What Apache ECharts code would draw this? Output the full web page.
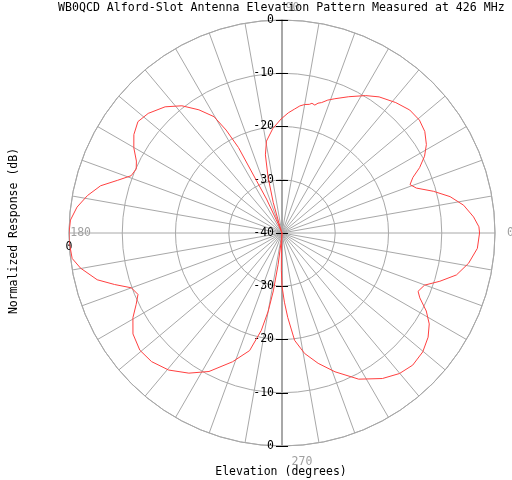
<!DOCTYPE html>
<html>
<head>
<meta charset="utf-8">
<script src="https://cdn.jsdelivr.net/npm/echarts@6/dist/echarts.min.js"></script>
<style>html,body{margin:0;padding:0;background:#fff}#c{width:512px;height:480px}</style>
</head>
<body>
<div id="c"></div>
<script>
// Elevation angle (degrees) and normalized response (dB)
const angles = [0, 1.8, 4.8, 8.7, 12.2, 15.4, 18.5, 20.7, 23.0, 25.4, 28.3, 31.5, 35.4, 39.4, 43.9, 48.9,
  54.5, 58.7, 63.9, 68.5, 71, 73.1, 74.5, 75.6, 77, 78, 80.0, 82, 84.2, 87, 90.5, 95, 99.6, 102, 104, 106, 107,
  108, 112, 113, 114.5, 116, 117, 118.5, 120.3, 124, 128.2, 132.8, 138.2, 142.3, 146.4, 150.1, 153.7,
  156.3, 159.2, 162.2, 165.4, 169.1, 172.8, 176.5, 180, 182.4, 186.9, 189.9, 194.2, 197.1, 200, 203.1,
  206.1, 209.6, 214.1, 219.5, 224.6, 230.4, 236.4, 242.2, 249, 254.6, 258, 260, 261.5, 263, 264, 265,
  267, 268, 269, 270, 272, 273.9, 276.7, 280.6, 285.5, 290.9, 297.7, 304.6, 309.9, 314.7, 319.8, 324.5,
  328.3, 331.6, 334.8, 336.8, 339.9, 343, 346.5, 350.8, 355.5, 360];
const response = [-2.9, -3.0, -3.9, -5.5, -7.7, -10.5, -13.4, -14.3, -13.3, -11.4, -9.6, -8.2, -7.1, -6.6, -6.7, -7.5,
  -8.6, -9.8, -11.5, -12.9, -13.6, -14.4, -14.7, -15.2, -15.0, -15.3, -15.5, -15.9, -16.6, -17.4, -18.6, -20.3, -22.5, -25, -29.2, -34, -38,
  -40, -40, -38, -33, -29, -22, -18, -14.7, -12.1, -9.6, -7.7, -6.3, -5.8, -6.6, -7.9, -9.5,
  -10.1, -9.7, -7.6, -4.8, -2.8, -1.2, -0.2, 0, 0, -0.3, -1.6, -4.2, -7.1, -9.9, -10.6,
  -9.5, -7.8, -6.2, -5.4, -5.6, -6.6, -8.4, -10.6, -14.1, -17.1, -21.3, -25.1, -29, -34, -38, -40,
  -40, -37, -33, -30, -27, -24.1, -19.7, -17, -14.6, -12.1, -9.0, -6.8, -5.6, -5.1, -5.4, -6.3,
  -7.5, -9.2, -11.4, -12.2, -11.5, -9.0, -6.3, -4.5, -3.2, -2.9];
const radialTicks = [-40, -30, -20, -10, 0];
const angleTickLabels = [0, 90, 180, 270];

const FONT = 'DejaVu Sans Mono';
const GRID = '#a8a8a8';
const CENTER = [282, 233];
const RADIUS = 213;

const chart = echarts.init(document.getElementById('c'), null, {renderer: 'canvas'});

function radiusOnlyAxis(opts) {
  return {
    type: 'value', min: radialTicks[0], max: radialTicks[radialTicks.length - 1], interval: 10,
    axisLine: {show: !!opts.line, lineStyle: {color: GRID, width: 2}},
    axisTick: {show: !!opts.ticks, length: opts.tickLen || 6, lineStyle: {color: '#000', width: 1}},
    axisLabel: {show: !!opts.labels, color: '#000', fontFamily: FONT, fontSize: 11.5,
      margin: opts.margin != null ? opts.margin : 8, align: opts.align,
      formatter: opts.labels || (() => '')},
    splitLine: {show: false}
  };
}
function hiddenAngle(start) {
  return {type: 'value', min: 0, max: 360, startAngle: start, clockwise: false,
    axisLine: {show: false}, axisTick: {show: false}, axisLabel: {show: false}, splitLine: {show: false}};
}
const angLab = {color: '#a0a0a0', fontFamily: FONT, fontSize: 11.5};

const seriesData = angles.map((a, i) => [response[i], a]);

chart.setOption({
  animation: false,
  backgroundColor: '#fff',
  title: {
    text: 'WB0QCD Alford-Slot Antenna Elevation Pattern Measured at 426 MHz',
    left: 58, top: 2, padding: 0,
    textStyle: {fontFamily: FONT, fontSize: 11.6, fontWeight: 'normal', color: '#000'}
  },
  polar: [
    {center: CENTER, radius: RADIUS},
    {center: CENTER, radius: RADIUS},
    {center: CENTER, radius: RADIUS},
    {center: CENTER, radius: RADIUS},
    {center: CENTER, radius: RADIUS},
    {center: CENTER, radius: RADIUS}
  ],
  angleAxis: [
    {
      polarIndex: 0, type: 'value', min: 0, max: 360, interval: 10, startAngle: 0, clockwise: false,
      axisLine: {show: true, lineStyle: {color: GRID, width: 1}},
      axisTick: {show: false},
      axisLabel: {show: true, color: '#a0a0a0', fontFamily: FONT, fontSize: 11.5, margin: -22,
        formatter: v => angleTickLabels.indexOf(v) >= 0 ? '{a' + v + '|' + v + '}' : '',
        rich: {
          a0: Object.assign({padding: [0, 0, 0, 34]}, angLab),
          a90: Object.assign({padding: [0, 0, 28, 21]}, angLab),
          a180: Object.assign({padding: [0, 0, 0, 0]}, angLab),
          a270: Object.assign({padding: [32, 0, 0, 40]}, angLab)
        }},
      splitLine: {show: true, lineStyle: {color: GRID, width: 1}}
    },
    Object.assign({polarIndex: 1}, hiddenAngle(90)),
    Object.assign({polarIndex: 2}, hiddenAngle(270)),
    Object.assign({polarIndex: 3}, hiddenAngle(180)),
    Object.assign({polarIndex: 4}, hiddenAngle(90)),
    Object.assign({polarIndex: 5}, hiddenAngle(270))
  ],
  radiusAxis: [
    {
      polarIndex: 0, type: 'value', min: -40, max: 0, interval: 10,
      axisLine: {show: false}, axisTick: {show: false}, axisLabel: {show: false},
      splitLine: {show: true, lineStyle: {color: GRID, width: 1}}
    },
    Object.assign({polarIndex: 1}, radiusOnlyAxis({line: true, ticks: true, labels: v => String(v)})),
    Object.assign({polarIndex: 2}, radiusOnlyAxis({line: true, ticks: true, margin: -8, align: 'right',
      labels: v => v === -40 ? '' : String(v)})),
    Object.assign({polarIndex: 3}, radiusOnlyAxis({labels: v => v === 0 ? '0' : ''})),
    Object.assign({polarIndex: 4}, radiusOnlyAxis({ticks: true, tickLen: -6})),
    Object.assign({polarIndex: 5}, radiusOnlyAxis({ticks: true, tickLen: -6}))
  ],
  graphic: [
    {type: 'text', x: 281, y: 472, style: {text: 'Elevation (degrees)', fill: '#000',
      font: '11.5px "DejaVu Sans Mono"', textAlign: 'center', textVerticalAlign: 'middle'}},
    {type: 'text', x: 14, y: 231, rotation: Math.PI / 2, style: {text: 'Normalized Response (dB)', fill: '#000',
      font: '11.5px "DejaVu Sans Mono"', textAlign: 'center', textVerticalAlign: 'middle'}}
  ],
  series: [{
    type: 'line', coordinateSystem: 'polar', polarIndex: 0,
    data: seriesData, showSymbol: false, smooth: false,
    lineStyle: {color: '#ff4040', width: 1}, z: 5
  }]
});
</script>
</body>
</html>
